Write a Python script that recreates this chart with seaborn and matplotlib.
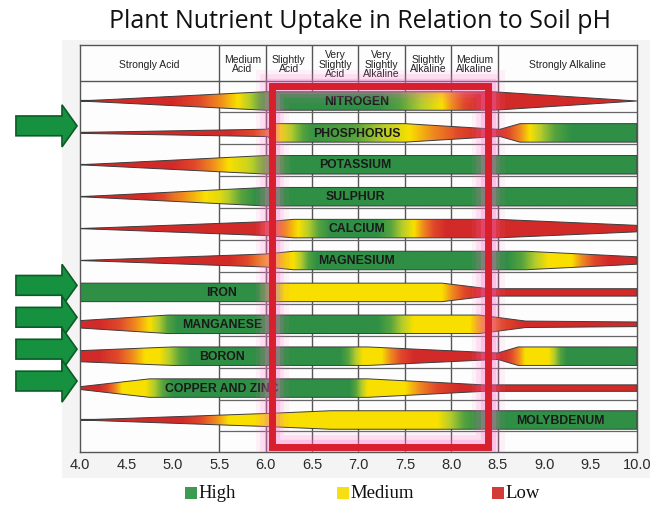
import numpy as np
import pandas as pd
import matplotlib
matplotlib.use("Agg")
import matplotlib.pyplot as plt
import seaborn as sns
from matplotlib.patches import Polygon, Rectangle
from matplotlib.colors import LinearSegmentedColormap

# Data
nutrients = ["NITROGEN", "PHOSPHORUS", "POTASSIUM", "SULPHUR", "CALCIUM", "MAGNESIUM",
             "IRON", "MANGANESE", "BORON", "COPPER AND ZINC", "MOLYBDENUM"]
label_ph = [6.98, 6.98, 6.97, 6.97, 6.98, 6.98, 5.52, 5.53, 5.53, 5.53, 9.17]

# band thickness (0..1) at pH knots
nitrogen_width = [(4.0, 0.0), (6.0, 1.0), (8.45, 1.0), (10.0, 0.0)]
phosphorus_width = [(4.0, 0.05), (6.02, 0.4), (6.1, 1.0), (7.5, 1.0), (8.52, 0.38), (8.74, 1.0), (10.0, 1.0)]
potassium_width = [(4.0, 0.0), (6.0, 1.0), (10.0, 1.0)]
sulphur_width = [(4.0, 0.0), (6.0, 1.0), (10.0, 1.0)]
calcium_width = [(4.0, 0.0), (6.0, 0.75), (6.3, 1.0), (8.5, 1.0), (10.0, 0.35)]
magnesium_width = [(4.0, 0.0), (6.0, 0.7), (6.3, 1.0), (8.8, 1.0), (10.0, 0.4)]
iron_width = [(4.0, 1.0), (7.9, 1.0), (8.4, 0.4), (10.0, 0.4)]
manganese_width = [(4.0, 0.4), (4.95, 1.0), (8.3, 1.0), (8.8, 0.35), (10.0, 0.25)]
boron_width = [(4.0, 0.6), (5.0, 1.0), (7.1, 1.0), (8.5, 0.35), (8.72, 1.0), (10.0, 1.0)]
copper_width = [(4.0, 0.15), (4.75, 1.0), (7.1, 1.0), (8.35, 0.35), (10.0, 0.35)]
molybdenum_width = [(4.0, 0.0), (6.0, 0.7), (6.7, 1.0), (10.0, 1.0)]

# availability level (0 low, 0.5 medium, 1 high) at pH knots
nitrogen_level = [(4.0, 0.0), (5.0, 0.0), (5.7, 0.5), (6.1, 1.0), (7.2, 1.0), (7.9, 0.5), (8.3, 0.0), (10.0, 0.0)]
phosphorus_level = [(4.0, 0.0), (5.6, 0.0), (6.0, 0.3), (6.15, 0.5), (6.5, 0.95), (7.0, 0.8), (7.55, 0.5),
                    (8.0, 0.25), (8.35, 0.0), (8.5, 0.0), (8.62, 0.2), (8.85, 0.5), (9.0, 0.7), (9.3, 1.0), (10.0, 1.0)]
potassium_level = [(4.0, 0.0), (5.0, 0.0), (5.35, 0.3), (5.6, 0.5), (5.8, 0.6), (6.05, 0.85), (6.3, 1.0), (10.0, 1.0)]
sulphur_level = [(4.0, 0.0), (4.7, 0.0), (5.0, 0.3), (5.35, 0.5), (5.5, 0.55), (5.9, 1.0), (10.0, 1.0)]
calcium_level = [(4.0, 0.0), (5.9, 0.0), (6.15, 0.3), (6.35, 0.5), (6.7, 1.0), (7.2, 1.0), (7.6, 0.5), (7.95, 0.0), (10.0, 0.0)]
magnesium_level = [(4.0, 0.0), (5.6, 0.0), (6.0, 0.4), (6.3, 0.5), (6.55, 1.0), (8.6, 1.0), (9.05, 0.5), (9.3, 0.5), (9.7, 0.0), (10.0, 0.0)]
iron_level = [(4.0, 1.0), (5.9, 1.0), (6.2, 0.5), (7.9, 0.5), (8.3, 0.0), (10.0, 0.0)]
manganese_level = [(4.0, 0.0), (4.2, 0.0), (4.75, 0.5), (5.05, 1.0), (7.2, 1.0), (7.6, 0.5), (8.2, 0.5), (8.55, 0.2), (8.8, 0.0), (10.0, 0.0)]
boron_level = [(4.0, 0.0), (4.2, 0.0), (4.7, 0.5), (4.85, 0.5), (5.2, 1.0), (6.8, 1.0), (7.05, 0.5), (7.25, 0.5),
               (7.6, 0.0), (8.55, 0.0), (8.8, 0.5), (9.05, 0.5), (9.25, 1.0), (10.0, 1.0)]
copper_level = [(4.0, 0.0), (4.2, 0.0), (4.45, 0.5), (4.7, 0.5), (5.0, 1.0), (6.9, 1.0), (7.1, 0.5), (7.5, 0.5), (7.9, 0.15), (8.1, 0.0), (10.0, 0.0)]
molybdenum_level = [(4.0, 0.0), (5.1, 0.0), (5.4, 0.3), (5.6, 0.5), (7.85, 0.5), (8.3, 1.0), (10.0, 1.0)]

widths = [nitrogen_width, phosphorus_width, potassium_width, sulphur_width, calcium_width, magnesium_width,
          iron_width, manganese_width, boron_width, copper_width, molybdenum_width]
levels = [nitrogen_level, phosphorus_level, potassium_level, sulphur_level, calcium_level, magnesium_level,
          iron_level, manganese_level, boron_level, copper_level, molybdenum_level]

arrow_nutrients = ["PHOSPHORUS", "IRON", "MANGANESE", "BORON", "COPPER AND ZINC"]

header_edges = [4.0, 5.5, 6.0, 6.5, 7.0, 7.5, 8.0, 8.5, 10.0]
header_labels = ["Strongly Acid", "Medium\nAcid", "Slightly\nAcid", "Very\nSlightly\nAcid",
                 "Very\nSlightly\nAlkaline", "Slightly\nAlkaline", "Medium\nAlkaline", "Strongly Alkaline"]
ph_ticks = [4.0, 4.5, 5.0, 5.5, 6.0, 6.5, 7.0, 7.5, 8.0, 8.5, 9.0, 9.5, 10.0]

legend_items = ["High", "Medium", "Low"]
legend_colors = ["#3d9a52", "#f6df12", "#d33b36"]

# Style
sns.set_theme(style="white")
plt.rcParams['font.family'] = ['Liberation Sans', 'DejaVu Sans']

cmap = LinearSegmentedColormap.from_list("uptake", [
    (0.0, "#d22a28"), (0.2, "#e0492a"), (0.36, "#ef8a1f"), (0.5, "#f9e000"),
    (0.66, "#b4cc2c"), (0.82, "#55a33e"), (1.0, "#2f8f45")])

W, H = 662, 505
fx = lambda px: px / W
fy = lambda py: 1 - py / H

fig = plt.figure(figsize=(6.62, 5.05), dpi=100)
fig.patches.append(Rectangle((fx(62), fy(478)), fx(650) - fx(62), fy(40) - fy(478),
                             transform=fig.transFigure, facecolor="#f4f4f4", edgecolor="none", zorder=-5))

ax = fig.add_axes([fx(80), fy(452), fx(637) - fx(80), fy(45) - fy(452)])
ax.set_zorder(2)
ax.set_facecolor("#fdfdfd")

row_px = 31.9
y_top = (45 - 101) / row_px
y_head = (81 - 101) / row_px
y_bot = (452 - 101) / row_px
half = 0.29

# grid
for e in header_edges[1:-1]:
    ax.plot([e, e], [y_top, y_bot], color="#555555", lw=1, zorder=1)
ax.plot([4, 10], [y_head, y_head], color="#555555", lw=1, zorder=1)
for i in range(len(nutrients)):
    ax.plot([4, 5.5], [i - 0.03, i - 0.03], color="#666666", lw=0.9, zorder=1)
    ax.plot([5.5, 10], [i + 0.36, i + 0.36], color="#666666", lw=0.9, zorder=1)

# header text
for k, lab in enumerate(header_labels):
    ax.text((header_edges[k] + header_edges[k + 1]) / 2, (y_top + y_head) / 2 + 0.05, lab,
            ha="center", va="center", fontsize=7.5, linespacing=0.92, color="#222222", zorder=3)

# bands
grid = np.linspace(4, 10, 601)
outline = []
for i, (name, wd, lv) in enumerate(zip(nutrients, widths, levels)):
    wp, wv = np.array(wd).T
    top = i - half * wv
    bot = i + half * wv
    xs = np.r_[wp, wp[::-1], wp[0]]
    ys = np.r_[top, bot[::-1], top[0]]
    poly = Polygon(np.column_stack([xs, ys]), closed=True, facecolor="none", edgecolor="none")
    ax.add_patch(poly)
    lp, lvv = np.array(lv).T
    shade = np.interp(grid, lp, lvv)
    im = ax.imshow(shade[None, :], extent=(4, 10, i + half, i - half), aspect="auto",
                   cmap=cmap, vmin=0, vmax=1, interpolation="bilinear", zorder=2)
    im.set_clip_path(poly)
    outline.append(pd.DataFrame({"nutrient": name, "order": np.arange(len(xs)), "ph": xs, "y": ys}))
    ax.text(label_ph[i], i + 0.02, name, ha="center", va="center", fontsize=8.8,
            fontweight="bold", color="#1a1a1a", zorder=3)

outline_df = pd.concat(outline, ignore_index=True)
sns.lineplot(data=outline_df, x="ph", y="y", units="nutrient", estimator=None, sort=False,
             color="#3c3c3c", linewidth=0.7, legend=False, ax=ax, zorder=2.5)

# highlight box (pH 6.07 - 8.39)
for lw, a in [(24, 0.08), (17, 0.14), (11, 0.25)]:
    ax.add_patch(Rectangle((6.07, -0.47), 2.32, 11.32, fill=False, edgecolor="#ff6cc8",
                           lw=lw, alpha=a, zorder=4, joinstyle="miter"))
ax.add_patch(Rectangle((6.07, -0.47), 2.32, 11.32, fill=False, edgecolor="#d81f2e",
                       lw=5, zorder=5, joinstyle="miter"))

# arrows pointing at highlighted nutrients
for name in arrow_nutrients:
    yc = nutrients.index(name) - 0.22
    pts = [(3.31, yc - 0.31), (3.806, yc - 0.31), (3.806, yc - 0.66), (3.968, yc),
           (3.806, yc + 0.66), (3.806, yc + 0.31), (3.31, yc + 0.31)]
    ax.add_patch(Polygon(pts, closed=True, facecolor="#16913f", edgecolor="#0b5c25",
                         lw=1.2, clip_on=False, zorder=5))

ax.set_xlim(4, 10)
ax.set_ylim(y_bot, y_top)
ax.set_xticks(ph_ticks)
ax.set_xticklabels([f"{v:.1f}" for v in ph_ticks])
ax.set_yticks([])
ax.tick_params(axis="x", length=0, pad=4, labelsize=10.5, labelcolor="#2a2a2a")
ax.set_xlabel("")
ax.set_ylabel("")
for s in ax.spines.values():
    s.set_color("#555555")
    s.set_linewidth(1)

fig.text(fx(360), fy(22), "Plant Nutrient Uptake in Relation to Soil pH", ha="center", va="center",
         fontsize=18, family=["Open Sans", "DejaVu Sans"], color="#111111")

# legend
for lab, col, px in zip(legend_items, legend_colors, [185, 337, 492]):
    fig.patches.append(Rectangle((fx(px), fy(499)), 12 / W, 12 / H, transform=fig.transFigure,
                                 facecolor=col, edgecolor="none"))
    fig.text(fx(px + 13), fy(494), lab, ha="left", va="center", fontsize=13.5,
             family=["Liberation Serif", "DejaVu Serif"], color="#111111")

fig.savefig("out.png", dpi=100)
